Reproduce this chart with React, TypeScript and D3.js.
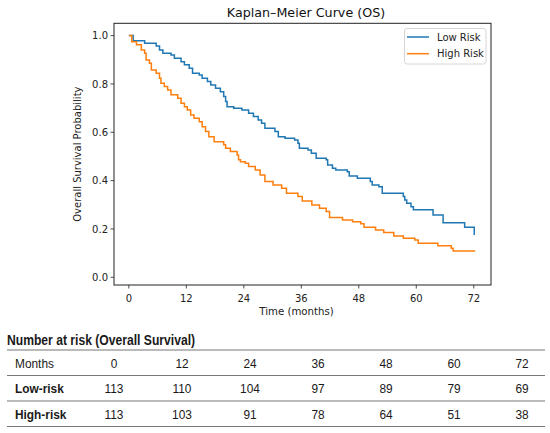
import React from "react";
import * as d3 from "d3";

const lowRiskTimes = [0, 0.9, 3.3, 5.7, 6.4, 7.1, 8.8, 9.5, 10.9, 11.6, 12.6, 13.3, 14.7, 15.3, 16.4, 17.1, 18.1, 19.1, 19.8, 20.2, 20.5, 21.9, 23.6, 25.0, 26.0, 27.0, 27.7, 28.4, 30.5, 31.2, 32.6, 34.6, 35.3, 35.6, 37.4, 38.1, 39.1, 41.2, 41.5, 42.5, 43.2, 45.6, 46.0, 47.7, 50.4, 50.8, 52.2, 52.9, 57.3, 57.6, 58.0, 58.9, 59.4, 63.5, 65.6, 70.1, 72.1];
const lowRiskSurv = [1.0, 0.979, 0.968, 0.957, 0.941, 0.927, 0.92, 0.906, 0.892, 0.879, 0.865, 0.844, 0.837, 0.824, 0.81, 0.796, 0.782, 0.768, 0.748, 0.727, 0.706, 0.699, 0.692, 0.679, 0.665, 0.651, 0.637, 0.617, 0.603, 0.582, 0.575, 0.568, 0.555, 0.534, 0.527, 0.513, 0.493, 0.486, 0.465, 0.451, 0.444, 0.437, 0.419, 0.41, 0.396, 0.382, 0.375, 0.348, 0.334, 0.32, 0.306, 0.292, 0.279, 0.258, 0.226, 0.207, 0.175];

const highRiskTimes = [0, 0.6, 1.6, 2.6, 3.3, 3.6, 4.3, 4.7, 5.7, 6.4, 6.7, 7.4, 8.1, 8.8, 10.2, 10.9, 11.6, 12.2, 12.9, 13.6, 14.7, 15.3, 16.0, 16.7, 17.8, 19.8, 20.2, 21.2, 22.6, 22.9, 23.3, 24.3, 25.0, 26.4, 27.4, 28.4, 30.1, 31.9, 32.9, 35.3, 36.2, 38.2, 39.8, 41.2, 41.9, 44.6, 46.7, 48.4, 49.1, 51.5, 53.2, 55.3, 57.3, 59.7, 60.4, 64.5, 67.3, 67.7, 72.3];
const highRiskSurv = [1.0, 0.975, 0.962, 0.941, 0.927, 0.899, 0.886, 0.858, 0.844, 0.824, 0.803, 0.789, 0.775, 0.755, 0.741, 0.72, 0.706, 0.692, 0.672, 0.658, 0.644, 0.623, 0.603, 0.582, 0.561, 0.548, 0.534, 0.52, 0.506, 0.486, 0.478, 0.472, 0.458, 0.444, 0.423, 0.396, 0.382, 0.368, 0.348, 0.334, 0.316, 0.299, 0.286, 0.272, 0.247, 0.237, 0.23, 0.221, 0.207, 0.196, 0.185, 0.171, 0.161, 0.154, 0.141, 0.13, 0.12, 0.109, 0.109];

const xTicks = [0, 12, 24, 36, 48, 60, 72];
const yTicks = [0, 0.2, 0.4, 0.6, 0.8, 1.0];
const seriesNames = ["Low Risk", "High Risk"];
const seriesColors = ["#1f77b4", "#ff7f0e"];

const riskMonths = [0, 12, 24, 36, 48, 60, 72];
const riskLow = [113, 110, 104, 97, 89, 79, 69];
const riskHigh = [113, 103, 91, 78, 64, 51, 38];
const riskRowLabels = ["Months", "Low-risk", "High-risk"];

const W = 550;
const H = 433;
const AX = { left: 114, right: 491, top: 23.3, bottom: 285 };
const mplFont = "'DejaVu Sans', sans-serif";
const tabFont = "'Liberation Sans', Arial, sans-serif";
const SQ = 0.88;

function TabText(props: { x: number; y: number; anchor?: string; bold?: boolean; size?: number; children: React.ReactNode }) {
  return (
    <text
      transform={`translate(${props.x},${props.y}) scale(${SQ},1)`}
      textAnchor={props.anchor || "start"}
      fontFamily={tabFont}
      fontSize={props.size || 13.5}
      fontWeight={props.bold ? "bold" : "normal"}
      fill="#1a1a1a"
    >
      {props.children}
    </text>
  );
}

export default function App() {
  const x = d3.scaleLinear().domain([-3.1, 75.6]).range([AX.left, AX.right]);
  const y = d3.scaleLinear().domain([-0.032, 1.051]).range([AX.bottom, AX.top]);
  const line = d3
    .line<[number, number]>()
    .x((d) => x(d[0]))
    .y((d) => y(d[1]))
    .curve(d3.curveStepAfter);

  const lowPts = lowRiskTimes.map((t, i) => [t, lowRiskSurv[i]] as [number, number]);
  const highPts = highRiskTimes.map((t, i) => [t, highRiskSurv[i]] as [number, number]);
  const series = [lowPts, highPts];

  const colX = d3.scalePoint<number>().domain(riskMonths).range([114, 522]);
  const rowY = [363, 388.5, 414];
  const ruleY = [350, 375.5, 401, 426.5];
  const rows = [riskMonths, riskLow, riskHigh];

  return (
    <svg width={W} height={H} style={{ position: "absolute", left: 0, top: 0, background: "#fff" }}>
      <rect x={0} y={0} width={W} height={H} fill="#fff" />
      <text x={306} y={16.7} textAnchor="middle" fontFamily={mplFont} fontSize={12.7} fill="#111">
        Kaplan–Meier Curve (OS)
      </text>

      {series.map((pts, i) => (
        <path key={i} d={line(pts) || ""} fill="none" stroke={seriesColors[i]} strokeWidth={1.5} />
      ))}

      <rect x={AX.left} y={AX.top} width={AX.right - AX.left} height={AX.bottom - AX.top} fill="none" stroke="#222" strokeWidth={1} />

      {xTicks.map((t) => (
        <g key={t}>
          <line x1={x(t)} x2={x(t)} y1={AX.bottom} y2={AX.bottom + 3.5} stroke="#222" strokeWidth={0.8} />
          <text x={x(t)} y={AX.bottom + 17} textAnchor="middle" fontFamily={mplFont} fontSize={10} fill="#222">
            {t}
          </text>
        </g>
      ))}
      {yTicks.map((t) => (
        <g key={t}>
          <line x1={AX.left - 3.5} x2={AX.left} y1={y(t)} y2={y(t)} stroke="#222" strokeWidth={0.8} />
          <text x={AX.left - 6} y={y(t) + 3.6} textAnchor="end" fontFamily={mplFont} fontSize={10} fill="#222">
            {t.toFixed(1)}
          </text>
        </g>
      ))}
      <text x={296.5} y={315} textAnchor="middle" fontFamily={mplFont} fontSize={10.2} fill="#222">
        Time (months)
      </text>
      <text
        transform={`translate(81,${(AX.top + AX.bottom) / 2}) rotate(-90)`}
        textAnchor="middle"
        fontFamily={mplFont}
        fontSize={10}
        fill="#222"
      >
        Overall Survival Probability
      </text>

      <g>
        <rect x={404.5} y={28.5} width={81.5} height={35.5} rx={2.5} fill="#fff" fillOpacity={0.85} stroke="#ccc" strokeWidth={0.8} />
        {seriesNames.map((n, i) => (
          <g key={n}>
            <line x1={407} x2={429} y1={37 + i * 16.7} y2={37 + i * 16.7} stroke={seriesColors[i]} strokeWidth={1.5} />
            <text x={437} y={40.6 + i * 16.7} fontFamily={mplFont} fontSize={10} fill="#222">
              {n}
            </text>
          </g>
        ))}
      </g>

      <TabText x={7} y={345} bold size={13.8}>
        Number at risk (Overall Survival)
      </TabText>
      {ruleY.map((ry, i) => (
        <line key={i} x1={7} x2={545} y1={ry} y2={ry} stroke="#777" strokeWidth={1.2} />
      ))}
      {rows.map((vals, r) => (
        <g key={r}>
          <TabText x={15} y={rowY[r] + 4.9} bold={r !== 0}>
            {riskRowLabels[r]}
          </TabText>
          {vals.map((v, c) => (
            <TabText key={c} x={colX(riskMonths[c]) as number} y={rowY[r] + 4.9} anchor="middle">
              {v}
            </TabText>
          ))}
        </g>
      ))}
    </svg>
  );
}
